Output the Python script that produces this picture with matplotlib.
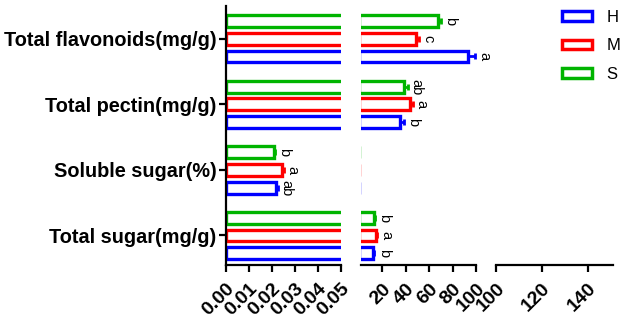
import matplotlib
matplotlib.use("Agg")
import matplotlib.pyplot as plt
from matplotlib.patches import Patch
import numpy as np

plt.rcParams['font.family'] = ['Liberation Sans', 'DejaVu Sans']

# -------------------------------------------------
# DATA
# -------------------------------------------------
categories = ["Total sugar(mg/g)", "Soluble sugar(%)", "Total pectin(mg/g)", "Total flavonoids(mg/g)"]
series = ["H", "M", "S"]
colors = {"H": "#0000FF", "M": "#FF0000", "S": "#00B400"}

values = {
    "H": [12.5, 0.0217, 35.0, 93.6],
    "M": [15.0, 0.0243, 43.5, 49.2],
    "S": [13.3, 0.0209, 38.8, 67.8],
}
errors = {
    "H": [1.0, 0.0008, 3.5, 5.5],
    "M": [1.0, 0.0008, 2.5, 2.3],
    "S": [1.0, 0.0006, 3.0, 2.3],
}
letters = {
    "H": ["b", "ab", "b", "a"],
    "M": ["a", "a", "a", "c"],
    "S": ["b", "b", "ab", "b"],
}

# axis segments (broken x axis)
segments = [
    {"xlim": (0, 0.05), "ticks": [0.00, 0.01, 0.02, 0.03, 0.04, 0.05],
     "labels": ["0.00", "0.01", "0.02", "0.03", "0.04", "0.05"]},
    {"xlim": (2, 100), "ticks": [20, 40, 60, 80, 100],
     "labels": ["20", "40", "60", "80", "100"]},
    {"xlim": (100, 151), "ticks": [100, 120, 140],
     "labels": ["100", "120", "140"]},
]

# -------------------------------------------------
# LAYOUT
# -------------------------------------------------
W, H = 624, 322
fig = plt.figure(figsize=(W / 100, H / 100), dpi=100)

px_left = [226, 361, 496]
px_right = [341, 476, 613]
y_bottom, y_top = 265, 6

offsets = {"H": -0.27, "M": 0.0, "S": 0.27}
bar_h = 0.18
y = np.arange(len(categories))

axes = []
for i, seg in enumerate(segments):
    ax = fig.add_axes([px_left[i] / W, (H - y_bottom) / H,
                       (px_right[i] - px_left[i]) / W, (y_bottom - y_top) / H])
    axes.append(ax)

    for s in series:
        ax.barh(y + offsets[s], values[s], height=bar_h, color="white",
                edgecolor=colors[s], linewidth=2.4, zorder=2)
        ax.errorbar(values[s], y + offsets[s], xerr=[np.zeros(len(y)), errors[s]],
                    fmt="none", ecolor=colors[s], elinewidth=2, capsize=2.5,
                    capthick=2, zorder=3)

    ax.set_xlim(*seg["xlim"])
    ax.set_ylim(-0.45, 3.5)
    ax.set_xticks(seg["ticks"])
    ax.set_xticklabels(seg["labels"], rotation=45, ha="right", va="top",
                       rotation_mode="anchor", fontsize=14, fontweight="bold")

    for sp in ["top", "right"]:
        ax.spines[sp].set_visible(False)
    ax.spines["bottom"].set_linewidth(1.6)
    ax.tick_params(axis="x", width=1.6, length=5, pad=6)

    if i == 0:
        ax.spines["left"].set_linewidth(1.6)
        ax.set_yticks(y)
        ax.set_yticklabels(categories, fontsize=14.3, fontweight="bold")
        ax.tick_params(axis="y", width=1.6, length=5, pad=2)
    else:
        ax.spines["left"].set_visible(False)
        ax.set_yticks([])

# significance letters
for s in series:
    for j in range(len(categories)):
        v = values[s][j] + errors[s][j]
        ax = axes[0] if j == 1 else axes[1]
        ax.annotate(letters[s][j], (v, y[j] + offsets[s]), xytext=(1.5, 0),
                    textcoords="offset points", rotation=-90, ha="left",
                    va="center", fontsize=10.5, zorder=4)

# legend
handles = [Patch(facecolor="white", edgecolor=colors[s], linewidth=2.5, label=s)
           for s in series]
fig.legend(handles=handles, loc="upper left", bbox_to_anchor=(555 / W, 1 - 3 / H),
           frameon=False, fontsize=12, handlelength=1.8, handleheight=0.5,
           labelspacing=0.82, handletextpad=0.9, borderpad=0.4, borderaxespad=0)

fig.savefig("out.png", dpi=100)
